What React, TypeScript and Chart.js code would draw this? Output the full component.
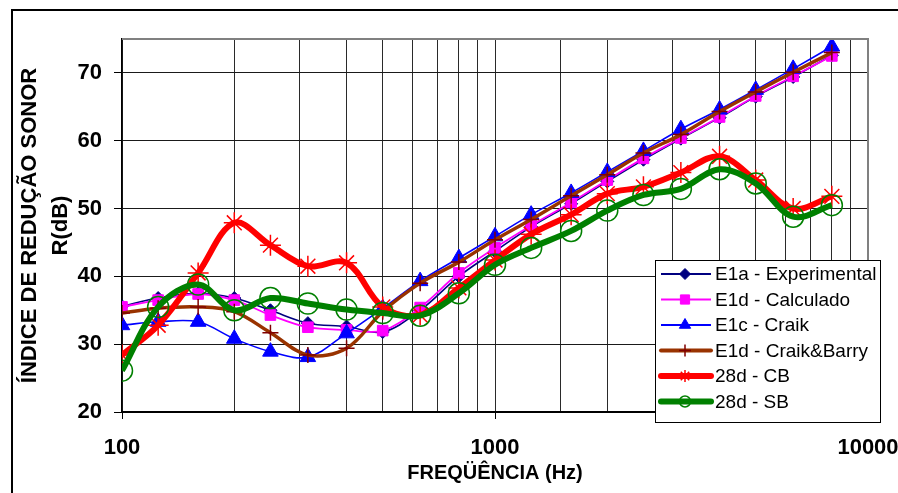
import React, { useEffect, useRef } from "react";
import { Chart, registerables } from "chart.js";
import { drawPoint } from "chart.js/helpers";

Chart.register(...registerables);

const freqs = [100, 125, 160, 200, 250, 315, 400, 500, 630, 800, 1000, 1250, 1600, 2000, 2500, 3150, 4000, 5000, 6300, 8000];

const e1aExperimental = [35.6, 36.8, 37.5, 36.8, 35.0, 33.1, 32.6, 31.8, 35.0, 40.0, 43.7, 47.3, 50.7, 54.0, 57.2, 60.3, 63.4, 66.5, 69.4, 72.6];
const e1dCalculado = [35.5, 36.5, 37.4, 36.5, 34.3, 32.5, 32.1, 32.0, 35.4, 40.5, 44.2, 47.5, 50.9, 54.2, 57.4, 60.4, 63.5, 66.6, 69.5, 72.5];
const e1cCraik = [32.8, 33.3, 33.3, 30.8, 28.9, 28.1, 31.6, 35.3, 39.3, 42.7, 45.9, 49.1, 52.3, 55.4, 58.5, 61.7, 64.6, 67.5, 70.6, 73.9];
const e1dCraikBarry = [34.6, 35.3, 35.5, 34.8, 31.7, 28.4, 29.4, 34.8, 39.0, 42.1, 45.4, 48.4, 51.9, 55.0, 58.2, 60.9, 64.3, 67.2, 70.1, 73.0];
const cb28d = [28.4, 32.8, 40.5, 47.9, 44.6, 41.5, 42.0, 35.5, 34.3, 38.3, 42.4, 46.2, 49.1, 52.2, 53.2, 55.3, 57.7, 54.2, 50.0, 51.8];
const sb28d = [26.1, 35.5, 38.8, 35.0, 36.8, 36.0, 35.1, 34.6, 34.2, 37.5, 41.7, 44.2, 46.7, 49.7, 52.0, 52.9, 55.8, 53.7, 48.8, 50.5];

const seriesLabels = ["E1a - Experimental", "E1d - Calculado", "E1c - Craik", "E1d - Craik&Barry", "28d - CB", "28d - SB"];
const yTicks = [20, 30, 40, 50, 60, 70];
const xTickLabels = [100, 1000, 10000];

const xTitle = "FREQÜÊNCIA (Hz)";
const yTitle1 = "ÍNDICE DE REDUÇÃO SONOR";
const yTitle2 = "R(dB)";

type Style = {
  line: string; lw: number; legLw: number; ps: string; r: number; legR: number;
  fill: string; stroke: string; bw: number;
};

const styles: Style[] = [
  { line: "#000080", lw: 1.6, legLw: 2, ps: "rectRot", r: 6.5, legR: 5.5, fill: "#000080", stroke: "#000080", bw: 1 },
  { line: "#FF00FF", lw: 1.8, legLw: 2, ps: "rect", r: 7.5, legR: 6.5, fill: "#FF00FF", stroke: "#FF00FF", bw: 1 },
  { line: "#0000FF", lw: 1.6, legLw: 2, ps: "triangle", r: 9, legR: 6.5, fill: "#0000FF", stroke: "#0000FF", bw: 1 },
  { line: "#993300", lw: 3.5, legLw: 4, ps: "cross", r: 8, legR: 6, fill: "#800000", stroke: "#800000", bw: 1.5 },
  { line: "#FF0000", lw: 6, legLw: 6, ps: "star", r: 10.5, legR: 6, fill: "#FF0000", stroke: "#FF0000", bw: 1.5 },
  { line: "#008000", lw: 6, legLw: 6, ps: "circle", r: 10.5, legR: 5.5, fill: "rgba(0,0,0,0)", stroke: "#008000", bw: 1.5 },
];

const allSeries = [e1aExperimental, e1dCalculado, e1cCraik, e1dCraikBarry, cb28d, sb28d];

const FONT = '"Liberation Sans", Arial, sans-serif';

const decorPlugin = {
  id: "decor",
  beforeDraw(chart: any) {
    const ctx = chart.ctx;
    ctx.save();
    ctx.fillStyle = "#fff";
    ctx.fillRect(0, 0, chart.width, chart.height);
    ctx.restore();
  },
  afterDraw(chart: any) {
    const ctx = chart.ctx;
    const a = chart.chartArea;
    ctx.save();
    // outer frame
    ctx.strokeStyle = "#000";
    ctx.lineWidth = 2;
    ctx.beginPath();
    ctx.moveTo(12, chart.height + 2);
    ctx.lineTo(12, 10);
    ctx.lineTo(chart.width + 2, 10);
    ctx.stroke();
    // plot border top/right
    ctx.strokeStyle = "#808080";
    ctx.lineWidth = 2;
    ctx.beginPath();
    ctx.moveTo(a.left, a.top);
    ctx.lineTo(a.right, a.top);
    ctx.lineTo(a.right, a.bottom);
    ctx.stroke();

    // titles
    ctx.fillStyle = "#000";
    ctx.font = `bold 20px ${FONT}`;
    ctx.textAlign = "center";
    ctx.textBaseline = "middle";
    ctx.fillText(xTitle, (a.left + a.right) / 2, 473);
    const cy = (a.top + a.bottom) / 2;
    ctx.font = `bold 22px ${FONT}`;
    ctx.save();
    ctx.translate(30, cy);
    ctx.rotate(-Math.PI / 2);
    ctx.fillText(yTitle1, 0, 0);
    ctx.restore();
    ctx.save();
    ctx.translate(61, cy);
    ctx.rotate(-Math.PI / 2);
    ctx.fillText(yTitle2, 0, 0);
    ctx.restore();

    // legend
    const lx = 655, ly = 260, lw = 225, lh = 162;
    ctx.fillStyle = "#fff";
    ctx.fillRect(lx, ly, lw, lh);
    ctx.strokeStyle = "#000";
    ctx.lineWidth = 1;
    ctx.strokeRect(lx + 0.5, ly + 0.5, lw, lh);
    const rowY0 = 274, rowStep = 25.5;
    chart.data.datasets.forEach((ds: any, i: number) => {
      const s = styles[i];
      const y = rowY0 + i * rowStep;
      ctx.strokeStyle = s.line;
      ctx.lineWidth = s.legLw;
      ctx.lineCap = s.legLw > 3 ? "round" : "butt";
      ctx.beginPath();
      ctx.moveTo(661, y);
      ctx.lineTo(711, y);
      ctx.stroke();
      ctx.lineCap = "butt";
      ctx.fillStyle = s.fill;
      ctx.strokeStyle = s.stroke;
      ctx.lineWidth = s.bw;
      drawPoint(ctx, { pointStyle: s.ps, radius: s.legR, rotation: 0, borderWidth: s.bw } as any, 685, y);
      ctx.fillStyle = "#000";
      ctx.font = `19px ${FONT}`;
      ctx.textAlign = "left";
      ctx.textBaseline = "middle";
      ctx.fillText(ds.label, 715, y + 1);
    });
    ctx.restore();
  },
};

export default function App() {
  const ref = useRef<HTMLCanvasElement | null>(null);
  useEffect(() => {
    if (!ref.current) return;
    const datasets = allSeries.map((vals, i) => {
      const s = styles[i];
      return {
        label: seriesLabels[i],
        data: freqs.map((f, j) => ({ x: f, y: vals[j] })),
        borderColor: s.line,
        backgroundColor: s.fill,
        borderWidth: s.lw,
        pointStyle: s.ps,
        pointRadius: s.r,
        pointHoverRadius: s.r,
        pointBackgroundColor: s.fill,
        pointBorderColor: s.stroke,
        pointBorderWidth: s.bw,
        tension: 0.35,
        fill: false,
        order: 5 - i,
      };
    });
    const chart = new Chart(ref.current, {
      type: "line",
      data: { datasets },
      plugins: [decorPlugin],
      options: {
        responsive: false,
        animation: false,
        devicePixelRatio: 1,
        layout: { padding: { top: 39, right: 30, left: 0, bottom: 0 } },
        plugins: { legend: { display: false }, tooltip: { enabled: false } },
        scales: {
          x: {
            type: "logarithmic",
            min: 100,
            max: 10000,
            afterFit: (s: any) => { s.height = 81; s.paddingRight = 0; s.paddingLeft = 0; },
            border: { color: "#000", width: 2 },
            grid: {
              color: "#2a2a2a",
              lineWidth: 1,
              tickLength: 7,
              tickColor: (c: any) => {
                const v = c.tick ? c.tick.value : 0;
                return xTickLabels.includes(v) ? "#000" : "rgba(0,0,0,0)";
              },
            },
            ticks: {
              autoSkip: false,
              maxRotation: 0,
              padding: 16,
              color: "#000",
              font: { family: FONT, size: 22, weight: "bold" },
              callback: (v: any) => (xTickLabels.includes(Number(v)) ? String(v) : ""),
            },
          },
          y: {
            type: "linear",
            min: 20,
            max: 75,
            afterFit: (s: any) => { s.width = 122; s.paddingTop = 0; s.paddingBottom = 0; },
            border: { color: "#000", width: 1.5 },
            grid: { color: "#1a1a1a", lineWidth: 1, tickLength: 8, tickColor: "#000" },
            ticks: {
              stepSize: 10,
              includeBounds: false,
              padding: 12,
              color: "#000",
              font: { family: FONT, size: 22, weight: "bold" },
              callback: (v: any) => (yTicks.includes(Number(v)) ? String(v) : null),
            },
          },
        },
      } as any,
    });
    return () => chart.destroy();
  }, []);
  return (
    <div style={{ position: "fixed", left: 0, top: 0, width: 898, height: 493, background: "#fff" }}>
      <canvas ref={ref} width={898} height={493} style={{ width: 898, height: 493, display: "block" }} />
    </div>
  );
}
